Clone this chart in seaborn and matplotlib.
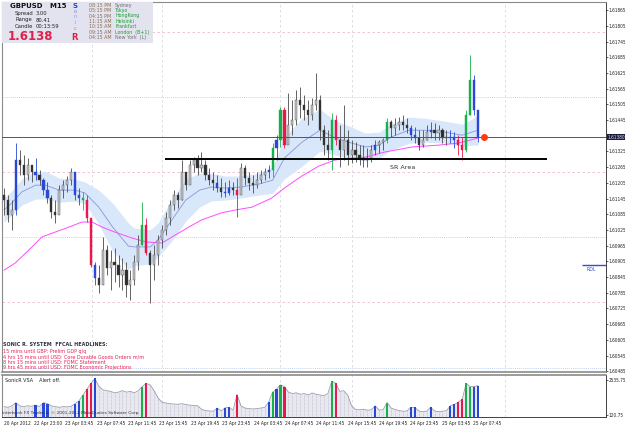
"""
GBPUSD M15 chart (SonicR template) - static recreation
"""
import numpy as np
import pandas as pd
import matplotlib
matplotlib.use("Agg")
import matplotlib.pyplot as plt
from matplotlib.patches import Rectangle
import seaborn as sns

sns.set_style("white")
plt.rcParams['font.family'] = ['DejaVu Sans']
NARROW = ['Liberation Sans Narrow', 'DejaVu Sans']

# ---- price bars (one bar per half hour) ----
first_open = 1.61160
bar_high = [1.61185, 1.61158, 1.61139, 1.61357, 1.61330, 1.61311, 1.61299, 1.61273, 1.61299, 1.61254,
            1.61223, 1.61208, 1.61158, 1.61139, 1.61196, 1.61215, 1.61231, 1.61261, 1.61246, 1.61185,
            1.61170, 1.61158, 1.61055, 1.60902, 1.60891, 1.60998, 1.60967, 1.60948, 1.60956, 1.60929,
            1.60917, 1.60902, 1.60872, 1.60929, 1.61005, 1.61131, 1.61070, 1.60948, 1.60967, 1.61005,
            1.61044, 1.61093, 1.61139, 1.61177, 1.61170, 1.61292, 1.61246, 1.61292, 1.61303, 1.61311,
            1.61322, 1.61292, 1.61261, 1.61246, 1.61235, 1.61223, 1.61208, 1.61215, 1.61208, 1.61223,
            1.61280, 1.61273, 1.61246, 1.61235, 1.61246, 1.61254, 1.61261, 1.61273, 1.61357, 1.61387,
            1.61494, 1.61494, 1.61548, 1.61521, 1.61559, 1.61571, 1.61540, 1.61521, 1.61529, 1.61624,
            1.61540, 1.61425, 1.61406, 1.61471, 1.61464, 1.61425, 1.61502, 1.61406, 1.61368, 1.61361,
            1.61349, 1.61349, 1.61338, 1.61349, 1.61368, 1.61368, 1.61376, 1.61452, 1.61445, 1.61452,
            1.61456, 1.61464, 1.61452, 1.61425, 1.61418, 1.61406, 1.61406, 1.61425, 1.61437, 1.61433,
            1.61425, 1.61414, 1.61406, 1.61406, 1.61399, 1.61387, 1.61380, 1.61483, 1.61693, 1.61617,
            1.61483]
bar_low = [1.61082, 1.61055, 1.61024, 1.61082, 1.61235, 1.61196, 1.61215, 1.61208, 1.61215, 1.61196,
           1.61158, 1.61128, 1.61070, 1.61051, 1.61101, 1.61147, 1.61170, 1.61196, 1.61139, 1.61120,
           1.61101, 1.61055, 1.60883, 1.60814, 1.60784, 1.60833, 1.60853, 1.60795, 1.60826, 1.60807,
           1.60795, 1.60769, 1.60757, 1.60814, 1.60872, 1.60967, 1.60929, 1.60745, 1.60833, 1.60891,
           1.60956, 1.61005, 1.61044, 1.61101, 1.61108, 1.61139, 1.61177, 1.61215, 1.61246, 1.61235,
           1.61246, 1.61215, 1.61196, 1.61177, 1.61170, 1.61150, 1.61150, 1.61158, 1.61158, 1.61074,
           1.61185, 1.61196, 1.61177, 1.61166, 1.61185, 1.61204, 1.61215, 1.61223, 1.61227, 1.61292,
           1.61342, 1.61338, 1.61368, 1.61387, 1.61425, 1.61452, 1.61445, 1.61425, 1.61445, 1.61483,
           1.61368, 1.61311, 1.61292, 1.61254, 1.61349, 1.61265, 1.61292, 1.61273, 1.61280, 1.61284,
           1.61273, 1.61265, 1.61265, 1.61284, 1.61311, 1.61318, 1.61330, 1.61357, 1.61380, 1.61387,
           1.61406, 1.61406, 1.61395, 1.61368, 1.61357, 1.61330, 1.61342, 1.61368, 1.61376, 1.61368,
           1.61368, 1.61357, 1.61349, 1.61357, 1.61338, 1.61311, 1.61292, 1.61322, 1.61464, 1.61464,
           1.61361]
bar_close = [1.61139, 1.61082, 1.61101, 1.61292, 1.61273, 1.61235, 1.61273, 1.61246, 1.61235, 1.61215,
             1.61177, 1.61147, 1.61093, 1.61082, 1.61177, 1.61196, 1.61215, 1.61246, 1.61158, 1.61147,
             1.61139, 1.61070, 1.60891, 1.60841, 1.60814, 1.60948, 1.60879, 1.60902, 1.60891, 1.60853,
             1.60872, 1.60814, 1.60833, 1.60902, 1.60967, 1.61044, 1.60937, 1.60891, 1.60929, 1.60986,
             1.61024, 1.61070, 1.61120, 1.61158, 1.61139, 1.61246, 1.61196, 1.61273, 1.61292, 1.61261,
             1.61273, 1.61235, 1.61215, 1.61204, 1.61185, 1.61170, 1.61166, 1.61185, 1.61177, 1.61158,
             1.61261, 1.61223, 1.61204, 1.61196, 1.61215, 1.61235, 1.61246, 1.61254, 1.61338, 1.61368,
             1.61483, 1.61349, 1.61425, 1.61445, 1.61521, 1.61502, 1.61483, 1.61464, 1.61502, 1.61521,
             1.61406, 1.61349, 1.61330, 1.61445, 1.61368, 1.61330, 1.61368, 1.61311, 1.61330, 1.61311,
             1.61299, 1.61292, 1.61299, 1.61330, 1.61349, 1.61361, 1.61368, 1.61437, 1.61414, 1.61425,
             1.61437, 1.61425, 1.61414, 1.61387, 1.61376, 1.61349, 1.61368, 1.61399, 1.61406, 1.61395,
             1.61406, 1.61376, 1.61376, 1.61380, 1.61368, 1.61349, 1.61330, 1.61464, 1.61597, 1.61483,
             1.61380]
# '.' plain bar, b/g/r = SonicR VSA highlight
bar_kind = ("...b....b." "bb......bb" "grrb......" ".....gr..." ".........."
            "....b.bb.r" ".......bgb" "gr........" "...gr....." "....b..g.."
            "...bb...b." "...bbrrggb" "b")
volume = [700, 650, 750, 975, 750, 700, 760, 720, 800, 700,
          975, 900, 750, 700, 650, 700, 680, 720, 900, 1100,
          1500, 1900, 2300, 2640, 2100, 1860, 1800, 1750, 1650, 1700,
          1800, 1700, 1750, 1650, 1800, 2080, 2300, 2200, 1800, 1300,
          1000, 950, 900, 880, 860, 900, 850, 800, 780, 760,
          520, 420, 400, 380, 600, 400, 620, 640, 450, 1530,
          750, 600, 560, 540, 560, 600, 650, 1000, 1700, 1900,
          2200, 2080, 1700, 1600, 1650, 1550, 1600, 1500, 1640, 1550,
          1500, 1450, 1600, 2450, 2300, 1750, 1800, 1500, 750, 500,
          480, 520, 450, 480, 750, 450, 500, 975, 600, 500,
          420, 380, 400, 645, 640, 400, 350, 380, 650, 400,
          350, 380, 420, 750, 850, 1000, 1200, 2300, 2080, 2080,
          2150]

# ---- moving averages read at a few bars ----
ema_idx = [0, 2, 4.5, 8, 10.5, 14, 18, 20.5, 24, 27.5, 31.5, 33, 37, 39, 42.5, 46, 49.5, 52.5,
           56, 60, 64.5, 68, 71, 75.5, 80, 84, 88, 91.5, 95, 98, 102.5, 106.5, 111.5, 116, 118.5, 120]
ema_val = [1.61101, 1.61128, 1.61170, 1.61196, 1.61196, 1.61177, 1.61177, 1.61166, 1.61112, 1.61036,
           1.60963, 1.60960, 1.60960, 1.60986, 1.61063, 1.61139, 1.61177, 1.61189, 1.61185, 1.61189,
           1.61200, 1.61215, 1.61300, 1.61361, 1.61406, 1.61376, 1.61357, 1.61342, 1.61349, 1.61380,
           1.61406, 1.61406, 1.61399, 1.61387, 1.61399, 1.61406]
band_half = [0.00046, 0.00046, 0.00050, 0.00053, 0.00053, 0.00046, 0.00042, 0.00042, 0.00065, 0.00092,
             0.00088, 0.00072, 0.00065, 0.00065, 0.00080, 0.00080, 0.00065, 0.00053, 0.00046, 0.00042,
             0.00042, 0.00050, 0.00080, 0.00092, 0.00080, 0.00065, 0.00061, 0.00053, 0.00050, 0.00050,
             0.00050, 0.00046, 0.00042, 0.00042, 0.00050, 0.00057]
slow_idx = [0, 2.8, 6.3, 9.6, 13, 16.5, 19.7, 22.3, 24.8, 28, 32.4, 36, 40, 43.3, 46.8, 50, 55, 58.5,
            62.8, 67.8, 71, 75.4, 79.7, 83.8, 88, 90.6, 96.5, 103.3, 110, 115, 120]
slow_val = [1.60871, 1.60898, 1.60948, 1.60998, 1.61017, 1.61036, 1.61055, 1.61055, 1.61036, 1.61017,
            1.60994, 1.60979, 1.60975, 1.61005, 1.61036, 1.61063, 1.61090, 1.61101, 1.61112, 1.61147,
            1.61185, 1.61231, 1.61269, 1.61292, 1.61300, 1.61300, 1.61323, 1.61342, 1.61349, 1.61357,
            1.61376]

grid_pink = [1.61781, 1.61246, 1.60750]
grid_blue = [1.61533, 1.60998, 1.60497]
vgrid_idx = [22.3, 40.0, 69.9, 88.1, 126.8]

current_price = 1.61380
sr_level = 1.61296
rdl_level = 1.60891

price_ticks = [1.61865, 1.61805, 1.61745, 1.61685, 1.61625, 1.61565, 1.61505, 1.61445, 1.61325,
               1.61265, 1.61205, 1.61145, 1.61085, 1.61025, 1.60965, 1.60905, 1.60845, 1.60785,
               1.60725, 1.60665, 1.60605, 1.60545, 1.60485]
vol_ticks = [120.75, 2535.75]
x_labels = ["20 Apr 2012", "22 Apr 23:00", "23 Apr 03:45", "23 Apr 07:45", "23 Apr 11:45",
            "23 Apr 15:45", "23 Apr 19:45", "23 Apr 23:45", "24 Apr 03:45", "24 Apr 07:45",
            "24 Apr 11:45", "24 Apr 15:45", "24 Apr 19:45", "24 Apr 23:45", "25 Apr 03:45",
            "25 Apr 07:45"]

session_times = ["08:15 PM", "05:15 PM", "04:15 PM", "11:15 AM", "10:15 AM", "09:15 AM", "04:15 AM"]
session_cities = ["Sydney", "Tokyo", "HongKong", "Helsinki", "Frankfurt", "London  (B+1)", "New York  (L)"]
session_open = [False, True, True, True, True, True, False]
headlines = ["15 mins until GBP: Prelim GDP q/q",
             "4 hrs 15 mins until USD: Core Durable Goods Orders m/m",
             "8 hrs 15 mins until USD: FOMC Statement",
             "9 hrs 45 mins until USD: FOMC Economic Projections"]

VSA = {'b': '#2848d8', 'g': '#18b048', 'r': '#e8184c'}

W, H = 625, 429
fig = plt.figure(figsize=(W / 100, H / 100), dpi=100)


def fx(px):
    return px / W


def fy(py):
    return 1 - py / H


ax = fig.add_axes([fx(2), fy(372), fx(606) - fx(2), fy(2) - fy(372)])
axv = fig.add_axes([fx(2), fy(417), fx(606) - fx(2), fy(375) - fy(417)])
for a in (ax, axv):
    a.set_xlim(-0.5, 152.4)
    a.set_facecolor('white')

df = pd.DataFrame({'high': bar_high, 'low': bar_low, 'close': bar_close,
                   'kind': list(bar_kind), 'volume': volume})
df['idx'] = np.arange(len(df))
df['open'] = df['close'].shift(1).fillna(first_open)

# grid
for lvl in grid_pink:
    ax.axhline(lvl, color='#f0b8cc', lw=0.6, ls=(0, (3, 3)), zorder=0)
for lvl in grid_blue:
    ax.axhline(lvl, color='#a8c4ee', lw=0.6, ls=(0, (1, 1.5)), zorder=0)
for xi in vgrid_idx:
    ax.axvline(xi, color='#d8d8e2', lw=0.6, ls=(0, (3, 3)), zorder=0)
    axv.axvline(xi, color='#d8d8e2', lw=0.6, ls=(0, (3, 3)), zorder=0)

# ribbon and moving averages
ema_df = pd.DataFrame({'idx': ema_idx, 'val': ema_val, 'half': band_half})
slow_df = pd.DataFrame({'idx': slow_idx, 'val': slow_val})
ax.fill_between(ema_df['idx'], ema_df['val'] - ema_df['half'], ema_df['val'] + ema_df['half'],
                color='#d8e8fa', lw=0, zorder=1)
sns.lineplot(data=ema_df, x='idx', y='val', ax=ax, color='#8a94dc', lw=0.6, zorder=2)
sns.lineplot(data=slow_df, x='idx', y='val', ax=ax, color='#ff4cff', lw=0.7, zorder=3)

# candles
for _, row in df.iterrows():
    up = row['close'] >= row['open']
    if row['kind'] in VSA:
        face = VSA[row['kind']]
        wick = face
    else:
        face = '#c4c4cc' if up else '#2c2c2c'
        wick = '#4a4a4a'
    ax.vlines(row['idx'], row['low'], row['high'], color=wick, lw=0.6, zorder=4)
    lo = min(row['open'], row['close'])
    h = max(abs(row['close'] - row['open']), 0.00004)
    ax.bar(row['idx'], h, bottom=lo, width=0.55, color=face, edgecolor=wick, lw=0.3, zorder=5)

# levels
ax.axhline(current_price, color='#555555', lw=0.7, zorder=6)
ax.hlines(sr_level, 40.8, 137.5, color='black', lw=1.4, zorder=6)
ax.text(101, 1.61262, 'SR Area', fontsize=4.6, color='#333333', ha='center', va='center')
ax.plot([121.5], [current_price], 'o', color='#ff3a10', ms=4, mec='#ff3a10', zorder=7)
ax.hlines(rdl_level, 146.3, 152.4, color='#3848e0', lw=1.0)
ax.text(147.4, rdl_level - 0.00008, 'RDL', fontsize=3.4, color='#3848e0', va='top')

ax.set_ylim(1.60482, 1.61896)
ax.set_xlabel('')
ax.set_ylabel('')
ax.set_xticks([])
ax.yaxis.tick_right()
ax.set_yticks(price_ticks)
ax.set_yticklabels([f'{t:.5f}' for t in price_ticks], family=NARROW, stretch='condensed')
ax.tick_params(axis='y', length=1.2, width=0.5, pad=0.5, labelsize=3.4, colors='#222222')
ax.text(1.002, current_price, f'{current_price:.5f}', transform=ax.get_yaxis_transform(),
        fontsize=3.4, family=NARROW, stretch='condensed', color='#d8dcff', va='center', ha='left',
        bbox=dict(boxstyle='square,pad=0.12', fc='#1c1c3a', ec='none'))

# volume panel
axv.fill_between(df['idx'], 0, df['volume'], color='#e8e8f0', lw=0, zorder=1)
axv.vlines(df['idx'], 0, df['volume'], color='#b8b8c6', lw=0.5, ls=(0, (1, 1)), zorder=2)
axv.plot(df['idx'], df['volume'], color='#9c9cac', lw=0.6, zorder=3)
hl = df[df['kind'] != '.']
axv.bar(hl['idx'], hl['volume'], width=0.55, color=[VSA[k] for k in hl['kind']], lw=0, zorder=4)
axv.set_ylim(-17, 2880)
axv.yaxis.tick_right()
axv.set_yticks(vol_ticks)
axv.set_yticklabels(['120.75', '2535.75'], family=NARROW, stretch='condensed')
axv.tick_params(axis='y', length=1.2, width=0.5, pad=0.5, labelsize=3.4, colors='#222222')
xtick_pos = [0] + [7.6 + 7.94 * k for k in range(len(x_labels) - 1)]
axv.set_xticks(xtick_pos)
axv.set_xticklabels(x_labels, family=NARROW, stretch='condensed')
axv.tick_params(axis='x', length=2, width=0.5, pad=1, labelsize=3.5, colors='#222222')
for lab in axv.get_xticklabels():
    lab.set_ha('left')
axv.text(0.005, 0.88, 'SonicR VSA    Alert off.', transform=axv.transAxes,
         fontsize=3.5, color='#222222', va='center')
axv.text(0.0, 0.1, 'Interbank FX Trader 4, \u00a9 2001-2012 MetaQuotes Software Corp.',
         transform=axv.transAxes, fontsize=3.1, color='#333333', va='center', zorder=6)

for a in (ax, axv):
    for side in ('left', 'top'):
        a.spines[side].set_color('#8a8a8a')
        a.spines[side].set_linewidth(0.8)
    a.spines['right'].set_color('#222222')
    a.spines['right'].set_linewidth(0.6)
ax.spines['bottom'].set_color('#8a8a8a')
ax.spines['bottom'].set_linewidth(1.2)
axv.spines['top'].set_linewidth(1.2)
axv.spines['bottom'].set_color('#222222')
axv.spines['bottom'].set_linewidth(0.6)

# info box, top left
fig.patches.append(Rectangle((fx(2), fy(43)), fx(153) - fx(2), fy(2) - fy(43),
                             transform=fig.transFigure, fc='#e3e3ef', ec='none', zorder=10))
fig.text(fx(10), fy(6), 'GBPUSD   M15', fontsize=5, fontweight='bold', color='#111111', va='center', zorder=11)
for label, val, py in [('Spread', '3.00', 13.5), ('Range', '80.41', 20), ('Candle', '00:13:59', 26)]:
    fig.text(fx(15), fy(py), label, fontsize=3.8, color='#222222', va='center', zorder=11)
    fig.text(fx(36), fy(py), val, fontsize=3.8, color='#222222', va='center', zorder=11)
fig.text(fx(8), fy(36), '1.6138', fontsize=8.5, fontweight='bold', color='#e0204c', va='center', zorder=11)
sonic = [('S', 6, '#2040e0', 5, 'bold'), ('o', 11.5, '#7088e0', 3.8, 'normal'),
         ('n', 16.5, '#9890e0', 3.8, 'normal'), ('i', 22, '#c088c8', 3.8, 'normal'),
         ('c', 28, '#d86aa8', 3.8, 'normal'), ('R', 37, '#e02040', 6, 'bold')]
for ch, py, col, fs, fw in sonic:
    fig.text(fx(75), fy(py), ch, fontsize=fs, fontweight=fw, color=col, ha='center', va='center', zorder=11)
row_y = [5.7, 10.7, 16, 21.3, 26.7, 32.3, 37.7]
for t, city, is_open, py in zip(session_times, session_cities, session_open, row_y):
    fig.text(fx(89), fy(py), t, fontsize=3.4, color='#8a6a50', va='center', zorder=11)
    fig.text(fx(115), fy(py), city, fontsize=3.4, color='#18a030' if is_open else '#707070',
             va='center', zorder=11)

# news headlines
fig.text(fx(3), fy(345), 'SONIC R. SYSTEM  FFCAL HEADLINES:', fontsize=3.5, fontweight='bold',
         color='#303040', va='center')
for k, line in enumerate(headlines):
    fig.text(fx(3), fy(351.5 + 5.5 * k), line, fontsize=3.5, color='#e8205a', va='center')

fig.savefig('out.png', dpi=100)
